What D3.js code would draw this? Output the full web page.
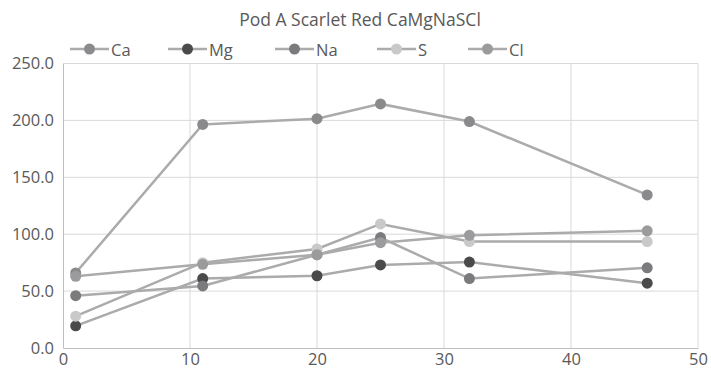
<!DOCTYPE html>
<html>
<head>
<meta charset="utf-8">
<script src="https://cdn.jsdelivr.net/npm/d3@7"></script>
<style>
  body { margin: 0; background: #fff; }
  text { font-family: "Open Sans", "Noto Sans", sans-serif; fill: #595959; }
</style>
</head>
<body>
<div id="chart"></div>
<script>
// data
const days = [1, 11, 20, 25, 32, 46];
const ca = [66, 196.5, 201.5, 214.5, 199, 134.5];
const mg = [19.5, 61, 63.5, 73, 75.5, 57];
const na = [46, 54.5, 82, 97, 61, 70.5];
const s = [28, 75, 87, 109, 93.5, 93.5];
const cl = [63, 73.5, 82, 92.5, 99, 103];
const seriesNames = ["Ca", "Mg", "Na", "S", "Cl"];
const markerColors = ["#8a8a8d", "#4a4a4a", "#7b7b7e", "#c9c9c9", "#9b9b9d"];
const yTicks = [0, 50, 100, 150, 200, 250];
const xTicks = [0, 10, 20, 30, 40, 50];

const width = 711, height = 378;
const margin = { left: 63, right: 13, top: 63.5, bottom: 30 };

const svg = d3.select("#chart").append("svg")
    .attr("width", width)
    .attr("height", height);

const x = d3.scaleLinear().domain([0, 50]).range([margin.left, width - margin.right]);
const y = d3.scaleLinear().domain([0, 250]).range([height - margin.bottom, margin.top]);

// gridlines
svg.append("g").selectAll("line").data(yTicks.slice(1)).enter().append("line")
    .attr("x1", x(0)).attr("x2", x(50))
    .attr("y1", d => y(d)).attr("y2", d => y(d))
    .attr("stroke", "#d9d9d9").attr("stroke-width", 1);
svg.append("g").selectAll("line").data(xTicks.slice(1)).enter().append("line")
    .attr("x1", d => x(d)).attr("x2", d => x(d))
    .attr("y1", y(0)).attr("y2", y(250))
    .attr("stroke", "#d9d9d9").attr("stroke-width", 1);

// axes
const xAxis = svg.append("g")
    .attr("transform", `translate(0,${y(0)})`)
    .call(d3.axisBottom(x).tickValues(xTicks).tickSize(0).tickPadding(5));
xAxis.select(".domain").attr("stroke", "#bfbfbf");
xAxis.selectAll("text").style("font-size", "16.5px").attr("fill", "#595959");

const yAxis = svg.append("g")
    .attr("transform", `translate(${x(0)},0)`)
    .call(d3.axisLeft(y).tickValues(yTicks).tickSize(0).tickPadding(9).tickFormat(d3.format(".1f")));
yAxis.select(".domain").attr("stroke", "#bfbfbf");
yAxis.selectAll("text").style("font-size", "16.5px").attr("fill", "#595959");

// title
svg.append("text")
    .attr("x", 360).attr("y", 26)
    .attr("text-anchor", "middle")
    .style("font-size", "17.5px")
    .text("Pod A Scarlet Red CaMgNaSCl");

// lines + markers
const allSeries = [ca, mg, na, s, cl];
const line = d3.line().x((d, i) => x(days[i])).y(d => y(d));

allSeries.forEach(function (vals, k) {
    const g = svg.append("g");
    g.append("path")
        .datum(vals)
        .attr("d", line)
        .attr("fill", "none")
        .attr("stroke", "#ababab")
        .attr("stroke-width", 2.5);
    g.selectAll("circle").data(vals).enter().append("circle")
        .attr("cx", (d, i) => x(days[i]))
        .attr("cy", d => y(d))
        .attr("r", 5.5)
        .attr("fill", markerColors[k]);
});

// legend
const legendX = [70, 168, 275, 377, 468];
const legend = svg.append("g");
seriesNames.forEach(function (name, k) {
    const lx = legendX[k];
    legend.append("line")
        .attr("x1", lx).attr("x2", lx + 39)
        .attr("y1", 49).attr("y2", 49)
        .attr("stroke", "#ababab").attr("stroke-width", 2.5);
    legend.append("circle")
        .attr("cx", lx + 19.5).attr("cy", 49).attr("r", 5.5)
        .attr("fill", markerColors[k]);
    legend.append("text")
        .attr("x", lx + 41).attr("y", 55.5)
        .style("font-size", "16.5px")
        .text(name);
});
</script>
</body>
</html>
